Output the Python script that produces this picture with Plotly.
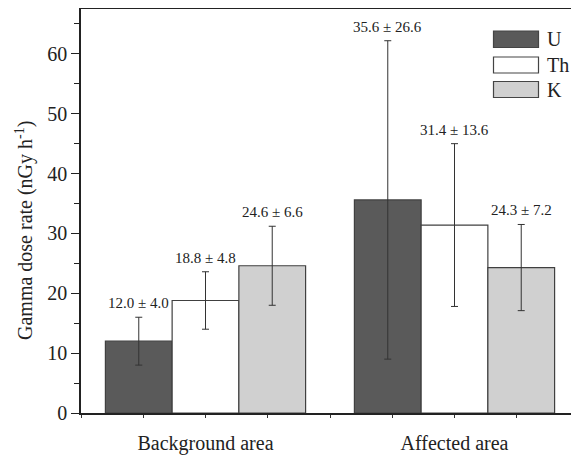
import plotly.graph_objects as go

categories = ["Background area", "Affected area"]
cat_pos = [1, 2]
series = ["U", "Th", "K"]
U_vals = [12.0, 35.6]
U_err = [4.0, 26.6]
Th_vals = [18.8, 31.4]
Th_err = [4.8, 13.6]
K_vals = [24.6, 24.3]
K_err = [6.6, 7.2]

colors = {"U": "#5a5a5a", "Th": "#ffffff", "K": "#d0d0d0"}
FONT = "Liberation Serif, Times New Roman, serif"

# page body has an 8px default margin; compensate so the plot lands where the reference has it
BODY = 8
FIG_W, FIG_H = 579 - BODY, 457 - BODY
plot_l, plot_t, plot_b = 81, 9, 413
ML = plot_l - BODY
MT = plot_t - BODY
MB = 457 - plot_b
plot_w = FIG_W - ML
plot_h = plot_b - plot_t

fig = go.Figure()
data = [("U", U_vals, U_err), ("Th", Th_vals, Th_err), ("K", K_vals, K_err)]
for name, vals, errs in data:
    fig.add_trace(go.Bar(
        x=cat_pos, y=vals, name=name,
        marker=dict(color=colors[name], line=dict(color="#404040", width=1.2)),
        error_y=dict(type="data", array=errs, visible=True, color="#333333",
                     thickness=1, width=3.5),
        showlegend=False,
    ))

# value labels above error bars
bar_w = 0.268
offsets = {"U": -bar_w, "Th": 0.0, "K": bar_w}
annotations = []
for name, vals, errs in data:
    for xp, v, e in zip(cat_pos, vals, errs):
        annotations.append(dict(
            x=xp + offsets[name], y=v + e, xref="x", yref="y",
            text=f"{v:.1f} ± {e:.1f}", showarrow=False,
            yanchor="bottom", xanchor="center", yshift=4,
            font=dict(family=FONT, size=15, color="#222222"),
        ))

def px_x(p):
    return (p - plot_l) / plot_w
def px_y(p):
    return 1 - (p - plot_t) / plot_h

# axis title
annotations.append(dict(
    x=px_x(24), y=px_y(231), xref="paper", yref="paper",
    text="Gamma dose rate (nGy h<sup>-1</sup>)", textangle=-90,
    showarrow=False, xanchor="center", yanchor="middle",
    font=dict(family=FONT, size=20, color="#222222"),
))

# custom legend
shapes = []
legend_rows = [("U", 31, 47.5), ("Th", 57, 73), ("K", 81.5, 97.5)]
for name, y0, y1 in legend_rows:
    shapes.append(dict(type="rect", xref="paper", yref="paper",
                       x0=px_x(493.5), x1=px_x(538.5), y0=px_y(y1), y1=px_y(y0),
                       fillcolor=colors[name], line=dict(color="#444444", width=1.2)))
    annotations.append(dict(
        x=px_x(545), y=px_y((y0 + y1) / 2), xref="paper", yref="paper",
        text=name, showarrow=False, xanchor="left", yanchor="middle",
        font=dict(family=FONT, size=20, color="#222222"),
    ))

fig.update_layout(
    width=FIG_W, height=FIG_H,
    margin=dict(l=ML, r=0, t=MT, b=MB, pad=0),
    paper_bgcolor="white", plot_bgcolor="white",
    barmode="group", bargap=0.196, bargroupgap=0,
    font=dict(family=FONT, size=20, color="#222222"),
    annotations=annotations, shapes=shapes,
    showlegend=False,
)
fig.update_xaxes(
    range=[0.5, 2.5], tickvals=cat_pos, ticktext=categories,
    ticks="outside", ticklen=3, tickcolor="#333333", tickwidth=1,
    minor=dict(dtick=0.25, tick0=0, ticks="outside", ticklen=3, tickcolor="#333333", tickwidth=1),
    showline=True, linecolor="#222222", linewidth=1.5, mirror=True,
    showgrid=False, zeroline=False, ticklabelstandoff=8,
    tickfont=dict(family=FONT, size=20, color="#222222"),
)
fig.update_yaxes(
    range=[0, 67.5], dtick=10, tick0=0,
    ticks="outside", ticklen=8, tickcolor="#222222", tickwidth=1.2,
    minor=dict(dtick=5, ticks="outside", ticklen=5, tickcolor="#222222", tickwidth=1.2),
    showline=True, linecolor="#222222", linewidth=1.5, mirror=False,
    showgrid=False, zeroline=False,
    tickfont=dict(family=FONT, size=20, color="#222222"),
)

fig.write_html("out.html")
